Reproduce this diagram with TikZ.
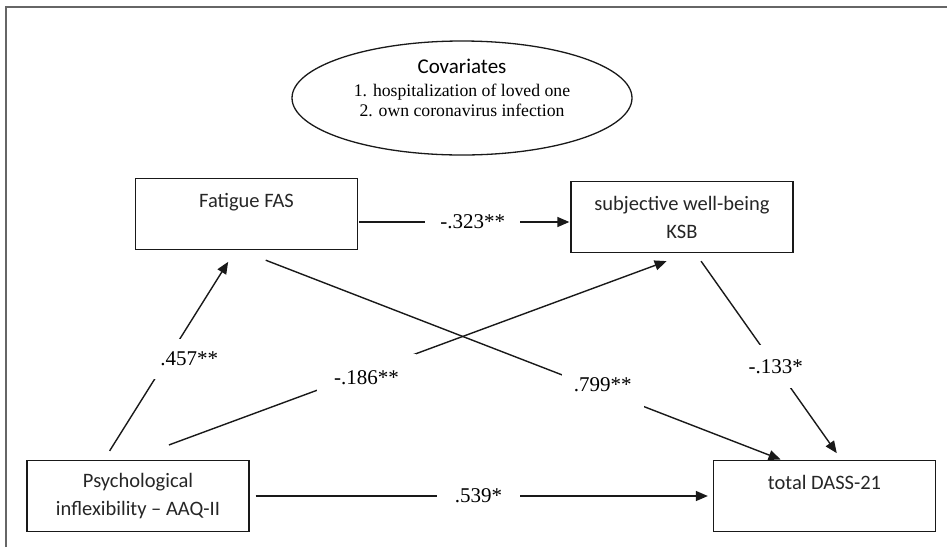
\documentclass[tikz,border=0pt]{standalone}
\usepackage{fontspec}
\setmainfont{Liberation Serif}
\setsansfont{Carlito}
\usetikzlibrary{arrows.meta,shapes.geometric}
\colorlet{myframe}{black!60}
\colorlet{myline}{black!90}
\colorlet{mytext}{black!85}
\tikzset{
	>=latex, % default arrow head
	box/.style={draw=myline,line width=1.3,minimum width=222,minimum height=71,inner sep=0,align=center,
	  text=mytext,font=\sffamily\fontsize{20.5}{28}\selectfont},
	covariates/.style={ellipse,draw=myline,line width=1.3,minimum width=340,minimum height=114,inner sep=0},
	connect/.style={line width=1.4,myline},
	connect arrow/.style={-{Triangle[length=12,width=10]},connect},
	coef/.style={fill=white,inner xsep=12,inner ysep=4,text=black,font=\fontsize{21}{24}\selectfont}
}

\begin{document}
\begin{tikzpicture}[x=1pt,y=-1pt]
  \useasboundingbox (0,0) rectangle (947,547);
  \draw[myframe,line width=2] (6,547) -- (6,7) -- (947,7); % frame, cut at right and bottom
  
  % COVARIATES
  \node[covariates] (cov) at (462,98) {};
  \node[align=center,font=\fontsize{17.7}{20}\selectfont] (covtext) at (cov.center) [yshift=10]
    {{\sffamily\fontsize{21}{24}\selectfont Covariates}\\[3pt]
     1. hospitalization of loved one\\
     2. own coronavirus infection};
  
  % VARIABLES
  \node[box] (fat)  at (246.5,214) {Fatigue FAS\\~};
  \node[box] (ksb)  at (682,217)   {subjective well-being\\KSB};
  \node[box] (psy)  at (138,496)   {Psychological\\inflexibility -- AAQ-II};
  \node[box] (dass) at (824.5,496) {total DASS-21\\~};
  
  % PATHS
  \draw[connect arrow,shorten <=1,shorten >=1] ([yshift=-8]fat.east) --
    node[coef,pos=0.54,inner xsep=15] {-.323**} ([yshift=-5]ksb.west);
  \draw[connect arrow,shorten <=10.6,shorten >=13.8] ([xshift=-34]psy.north) --
    node[coef,pos=0.481,xshift=22,inner ysep=13] {.457**} ([xshift=-11]fat.south);
  \draw[connect arrow,shorten <=43,shorten >=23] ([xshift=-9.4]psy.north) --
    node[coef,pos=0.425,yshift=-6,inner xsep=17,inner ysep=17] {-.186**} ([xshift=6.2]ksb.south);
  \draw[connect arrow,shorten <=27.8,shorten >=1] ([xshift=-6.7]fat.south) --
    node[coef,pos=0.67,yshift=6,inner ysep=16] {.799**} ([xshift=-43]dass.north);
  \draw[connect arrow,shorten <=9.8,shorten >=8.2] ([xshift=13.4]ksb.south) --
    node[coef,pos=0.55,inner xsep=2,inner ysep=14.4] {-.133*} ([xshift=17]dass.north);
  \draw[connect arrow,shorten <=6,shorten >=5] (psy.east) --
    node[coef,pos=0.494,inner xsep=18] {.539*} (dass.west);
  
\end{tikzpicture}
\end{document}
